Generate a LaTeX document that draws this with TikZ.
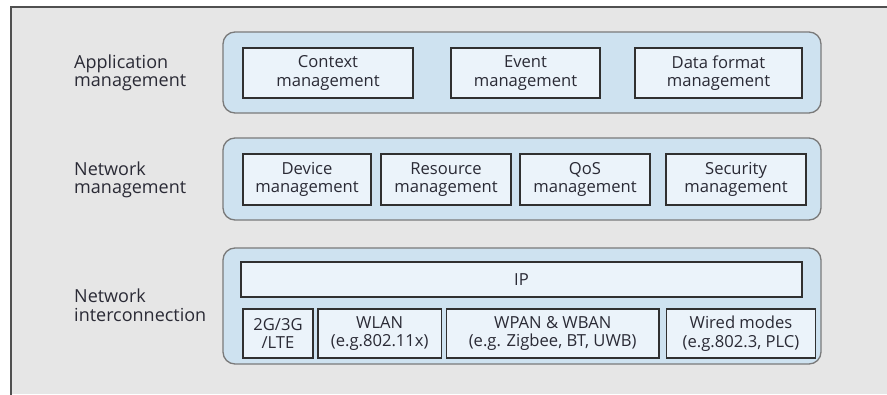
\documentclass[tikz,border=0pt]{standalone}
\usepackage{fontspec}
\setmainfont{Open Sans}
\definecolor{bgframe}{HTML}{E6E6E6}
\definecolor{framedraw}{HTML}{505050}
\definecolor{panelfill}{HTML}{CEE2F0}
\definecolor{paneldraw}{HTML}{7A7A7A}
\definecolor{boxfill}{HTML}{EBF3FA}
\definecolor{boxdraw}{HTML}{303030}
\definecolor{txt}{HTML}{2A2A35}
\begin{document}
\begin{tikzpicture}[x=1pt,y=-1pt,
  panel/.style={draw=paneldraw, fill=panelfill, line width=1.3pt, rounded corners=12pt, inner sep=0pt},
  mbox/.style={draw=boxdraw, fill=boxfill, line width=1.3pt, inner sep=0pt, align=center,
    text=txt, font=\fontsize{16.6}{18.5}\selectfont},
  lbl/.style={anchor=west, align=left, inner sep=0pt, text=txt, font=\fontsize{18}{18.5}\selectfont}]
\useasboundingbox (0,0) rectangle (887,394);
\fill[white] (0,0) rectangle (887,394);
\fill[bgframe] (11,7) rectangle (887,394);
\draw[framedraw, line width=1.5pt] (11,400) -- (11,7) -- (895,7);
% panels
\node[panel, minimum width=598pt, minimum height=81pt] (app) at (522,72.5) {};
\node[panel, minimum width=598pt, minimum height=82pt] (netm) at (522,179) {};
\node[panel, minimum width=598pt, minimum height=116pt] (neti) at (522,306) {};
% labels
\node[lbl] (lapp) at (74,73) {Application\\management};
\node[lbl] (lnetm) at (74,180) {Network\\management};
\node[lbl] (lneti) at (74,305) {Network\\interconnection};
% application management
\node[mbox, minimum width=170pt, minimum height=50pt] (ctx) at (328,73) {Context\\management};
\node[mbox, minimum width=149pt, minimum height=50pt] (evt) at (525.5,73) {Event\\management};
\node[mbox, minimum width=167pt, minimum height=50pt] (dfm) at (718.5,73) {Data format\\management};
% network management
\node[mbox, minimum width=128pt, minimum height=51pt] (dev) at (307,179.5) {Device\\management};
\node[mbox, minimum width=130pt, minimum height=51pt] (res) at (446,179.5) {Resource\\management};
\node[mbox, minimum width=130pt, minimum height=51pt] (qos) at (585,179.5) {QoS\\management};
\node[mbox, minimum width=140pt, minimum height=51pt] (sec) at (736,179.5) {Security\\management};
% network interconnection
\node[mbox, minimum width=561pt, minimum height=35pt] (ip) at (521.5,279.5) {IP};
\node[mbox, minimum width=70pt, minimum height=49pt] (cell) at (278,333.5) {2G/3G\\/LTE};
\node[mbox, minimum width=123.5pt, minimum height=49pt] (wlan) at (379.7,333.5) {WLAN\\(e.g.802.11x)};
\node[mbox, minimum width=212.5pt, minimum height=49pt] (wpan) at (552.7,333.5) {WPAN \& WBAN\\(e.g. Zigbee, BT, UWB)};
\node[mbox, minimum width=149pt, minimum height=49pt] (wired) at (741,333.5) {Wired modes\\(e.g.802.3, PLC)};
\end{tikzpicture}
\end{document}
